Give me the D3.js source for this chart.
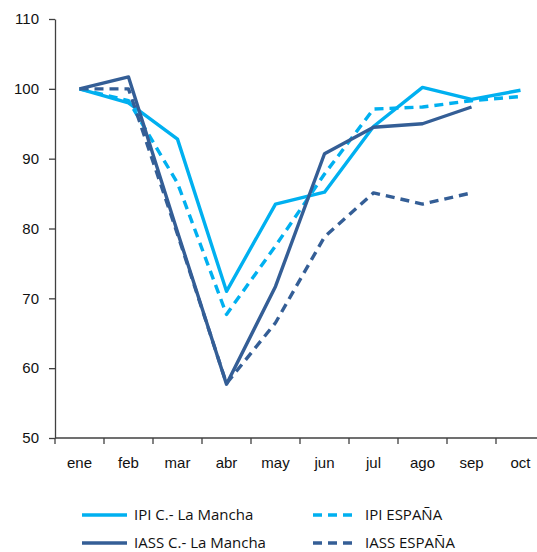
<!DOCTYPE html>
<meta charset="utf-8">
<title>IPI / IASS</title>
<style>
  body { margin: 0; background: #fff; }
  svg { font-family: "Open Sans", "Noto Sans", sans-serif; }
  .axis path, .axis line { stroke: #404040; stroke-width: 1.3; }
  .axis text { font-size: 15px; fill: #111; }
  .legend text { font-size: 15px; fill: #111; }
</style>
<svg width="537" height="552"></svg>
<script src="https://d3js.org/d3.v7.min.js"></script>
<script>

  var months = ["ene", "feb", "mar", "abr", "may", "jun", "jul", "ago", "sep", "oct"];
  var yTicks = [50, 60, 70, 80, 90, 100, 110];

  var ipiCLM   = [100, 98, 92.8, 71, 83.5, 85.2, 94.6, 100.2, 98.5, 99.8];
  var ipiEsp   = [100, 98.3, 86.5, 67.7, 77.5, 87.8, 97.1, 97.4, 98.3, 98.9];
  var iassCLM  = [100, 101.7, 79.5, 57.7, 71.7, 90.7, 94.5, 95.0, 97.4];
  var iassEsp  = [100, 100, 79.2, 57.8, 66.5, 78.8, 85.1, 83.5, 85.1];

  var light = "#00b0f0", dark = "#345e96";

  var series = [
    { name: "IPI C.- La Mancha", values: ipiCLM, color: light, dash: null },
    { name: "IPI ESPAÑA", values: ipiEsp, color: light, dash: "9,6" },
    { name: "IASS C.- La Mancha", values: iassCLM, color: dark, dash: null },
    { name: "IASS ESPAÑA", values: iassEsp, color: dark, dash: "9,6" }
  ];

  var svg = d3.select("svg");

  var x = d3.scaleBand().domain(months).range([55, 545]);
  var y = d3.scaleLinear().domain([50, 110]).range([438, 19]);

  svg.append("g")
      .attr("class", "axis")
      .attr("transform", "translate(0,438)")
      .call(d3.axisBottom(x).tickSize(0).tickPadding(19))
      .call(function(g) { g.select(".domain").attr("d", "M55,0H545"); });

  // ticks between categories
  svg.select(".axis").selectAll(".sep")
      .data(months.concat(["end"]))
      .enter().append("line")
      .attr("class", "sep")
      .attr("x1", function(d, i) { return 55 + i * x.bandwidth(); })
      .attr("x2", function(d, i) { return 55 + i * x.bandwidth(); })
      .attr("y1", 0).attr("y2", 6);

  svg.append("g")
      .attr("class", "axis")
      .attr("transform", "translate(55,0)")
      .call(d3.axisLeft(y).tickValues(yTicks).tickSize(6).tickSizeOuter(0).tickPadding(10));

  var line = d3.line()
      .x(function(d, i) { return x(months[i]) + x.bandwidth() / 2; })
      .y(function(d) { return y(d); });

  svg.selectAll(".series")
      .data(series)
      .enter().append("path")
      .attr("class", "series")
      .attr("fill", "none")
      .attr("stroke", function(d) { return d.color; })
      .attr("stroke-width", 3.4)
      .attr("stroke-linejoin", "round")
      .attr("stroke-dasharray", function(d) { return d.dash; })
      .attr("d", function(d) { return line(d.values); });

  var legend = svg.append("g").attr("class", "legend")
      .selectAll("g")
      .data(series)
      .enter().append("g")
      .attr("transform", function(d, i) {
        return "translate(" + (i % 2 ? 313 : 82) + "," + (i < 2 ? 515 : 543) + ")";
      });

  legend.append("line")
      .attr("x1", 0).attr("x2", function(d) { return d.dash ? 44 : 45; })
      .attr("stroke", function(d) { return d.color; })
      .attr("stroke-width", 3.4)
      .attr("stroke-dasharray", function(d) { return d.dash; });

  legend.append("text")
      .attr("x", 52)
      .attr("y", 5)
      .text(function(d) { return d.name; });

</script>
